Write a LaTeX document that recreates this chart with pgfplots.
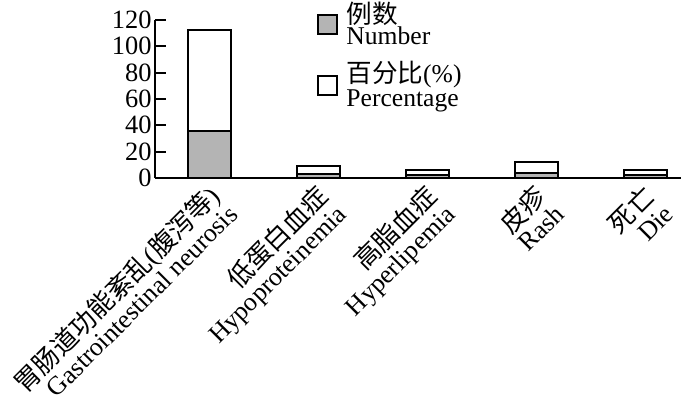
\documentclass[border=0pt]{standalone}
\usepackage{fontspec}
\setmainfont{Liberation Serif}
\newfontfamily\cjk{Noto Sans CJK SC}
\usepackage{pgfplots}
\pgfplotsset{compat=1.18}
\definecolor{bargray}{RGB}{180,180,180}
\begin{document}
\begin{tikzpicture}
\path[use as bounding box] (-77.5pt,-109.5pt) rectangle (272.5pt,89pt);
\begin{axis}[
  at={(0,0)}, anchor=south west,
  scale only axis, width=263pt, height=79pt,
  xmin=-0.505, xmax=4.326, ymin=0, ymax=120,
  axis x line=bottom, axis y line=left,
  axis line style={line width=1pt, -},
  ytick={0,20,...,120}, xtick={0,1,2,3,4},
  major tick length=5.5pt, tick align=inside,
  tick style={line width=1pt, black},
  xtick style={draw=none},
  /pgf/number format/assume math mode=true,
  yticklabel style={font=\fontsize{13.2}{13}\selectfont, inner sep=1.5pt},
  xticklabels={
    {{\cjk 胃肠道功能紊乱}({\cjk 腹泻等})\\Gastrointestinal neurosis},
    {{\cjk 低蛋白血症}\\Hypoproteinemia},
    {{\cjk 高脂血症}\\Hyperlipemia},
    {{\cjk 皮疹}\\Rash},
    {{\cjk 死亡}\\Die}},
  xticklabel style={rotate=45, anchor=north east, align=right,
    font=\fontsize{13}{12.6}\selectfont, inner xsep=3pt, inner ysep=0pt},
  ybar stacked, bar width=21.5pt,
  legend style={at={(0.308,1.145)}, anchor=north west, draw=none, fill=none,
    inner sep=0pt, row sep=3pt, column sep=2pt,
    font=\fontsize{12.8}{10.5}\selectfont, nodes={align=left}},
  legend cell align=left,
  legend image code/.code={\draw[#1] (0pt,-4.75pt) rectangle (9.5pt,4.75pt);},
]
\addplot[fill=bargray, draw=black, line width=1pt] coordinates {(0,36) (1,3) (2,2) (3,4) (4,2)};
\addlegendentry{{\cjk 例数}\\Number}
\addplot[fill=white, draw=black, line width=1pt] coordinates {(0,76.6) (1,6.4) (2,4.3) (3,8.5) (4,4.3)};
\addlegendentry{{\cjk 百分比}(\%)\\Percentage}
\end{axis}
\end{tikzpicture}
\end{document}
